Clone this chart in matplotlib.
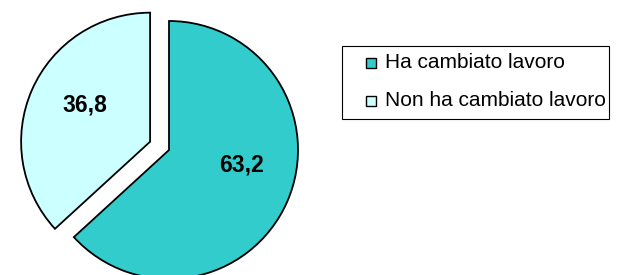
import matplotlib
matplotlib.use('Agg')
import matplotlib.pyplot as plt
from matplotlib.patches import Rectangle

categorie = ['Ha cambiato lavoro', 'Non ha cambiato lavoro']
valori = [63.2, 36.8]
etichette = ['63,2', '36,8']
colori = ['#33CCCC', '#CCFFFF']

plt.rcParams['font.family'] = ['Liberation Sans', 'DejaVu Sans']

fig = plt.figure(figsize=(6.26, 2.75), dpi=100)
ax = fig.add_axes([0, 0, 1, 1])

# coordinate in pixel, y verso l'alto
raio = 129
ax.pie(
    valori,
    colors=colori,
    startangle=90,
    counterclock=False,
    explode=[0, 0.16 * raio],
    center=(169, 125),
    radius=raio,
    wedgeprops=dict(edgecolor='black', linewidth=1.3),
    frame=True,
)
ax.set_xlim(0, 626)
ax.set_ylim(0, 275)
ax.set_aspect('equal')
ax.axis('off')

# etichette dei valori
pos_etichette = [(241, 275 - 165), (85, 275 - 105)]
for testo, (x, y) in zip(etichette, pos_etichette):
    ax.text(x, y, testo, ha='center', va='center', fontsize=16.5,
            fontweight='bold', color='black')

# legenda disegnata a mano
ax.add_patch(Rectangle((342, 275 - 119), 267, 73, facecolor='white',
                       edgecolor='black', linewidth=0.8))
righe_y = [275 - 63, 275 - 101]
for nome, col, y in zip(categorie, colori, righe_y):
    ax.add_patch(Rectangle((366, y - 5), 10, 10, facecolor=col,
                           edgecolor='black', linewidth=1.0))
    ax.text(385, y, nome, ha='left', va='center', fontsize=15, color='black')

fig.savefig('out.png', dpi=100)
